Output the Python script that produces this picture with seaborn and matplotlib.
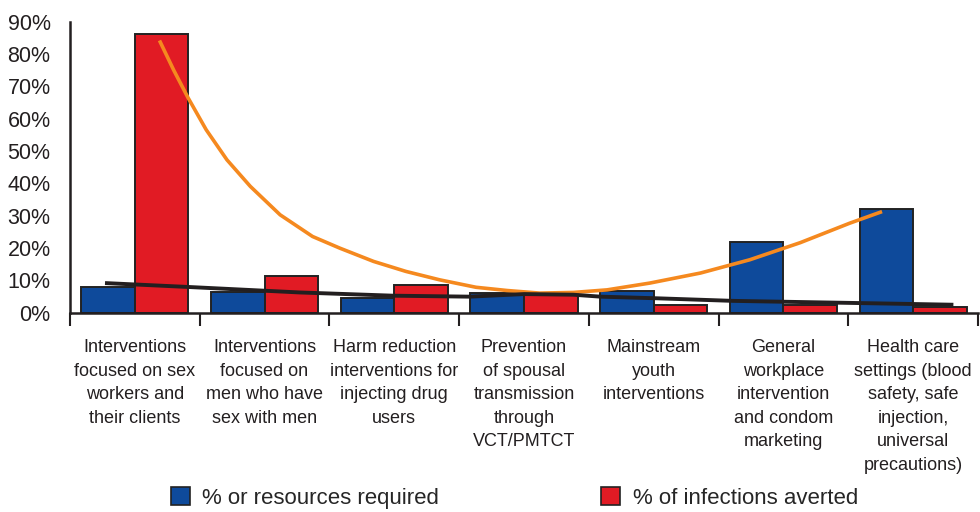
import pandas as pd
import matplotlib.pyplot as plt
import seaborn as sns
from matplotlib.patches import Patch

# Dados
categorias = [
    'Interventions\nfocused on sex\nworkers and\ntheir clients',
    'Interventions\nfocused on\nmen who have\nsex with men',
    'Harm reduction\ninterventions for\ninjecting drug\nusers',
    'Prevention\nof spousal\ntransmission\nthrough\nVCT/PMTCT',
    'Mainstream\nyouth\ninterventions',
    'General\nworkplace\nintervention\nand condom\nmarketing',
    'Health care\nsettings (blood\nsafety, safe\ninjection,\nuniversal\nprecautions)',
]
recursos = [8.0, 6.5, 4.6, 6.2, 6.6, 22.0, 32.0]
infeccoes = [86.3, 11.5, 8.7, 5.9, 2.4, 2.4, 1.7]

serie_nomes = ['% or resources required', '% of infections averted']
cores = ['#0e4a9b', '#e11b24']

# Curva laranja (tendência das infecções evitadas)
laranja_x = [0.19, 0.30, 0.41, 0.55, 0.71, 0.89, 1.12, 1.37, 1.58, 1.84, 2.09, 2.35,
             2.63, 2.87, 3.12, 3.38, 3.64, 3.97, 4.36, 4.74, 5.13, 5.51, 5.76]
laranja_y = [84.2, 75.0, 66.5, 56.6, 47.3, 39.1, 30.3, 23.6, 20.0, 15.9, 12.8, 10.2,
             7.9, 6.9, 6.1, 6.3, 7.1, 9.2, 12.3, 16.4, 21.7, 27.7, 31.3]

# Linha preta (tendência dos recursos)
preta_x = [-0.23, 0.41, 1.27, 1.99, 2.58, 3.0, 3.38, 3.59, 4.02, 4.61, 5.90, 6.31]
preta_y = [9.2, 8.0, 6.3, 5.3, 5.0, 5.8, 5.6, 5.0, 4.5, 3.7, 2.8, 2.5]

chaves = [f'c{i}' for i in range(len(categorias))]
df = pd.DataFrame({
    'cat': chaves * 2,
    'valor': recursos + infeccoes,
    'serie': [serie_nomes[0]] * len(chaves) + [serie_nomes[1]] * len(chaves),
})

sns.set_style('white')
plt.rcParams['font.family'] = ['Liberation Sans', 'DejaVu Sans']

fig = plt.figure(figsize=(9.8, 5.12), dpi=100)
ax = fig.add_axes([0.0714, 0.389, 0.9266, 0.5686])

sns.barplot(data=df, x='cat', y='valor', hue='serie', order=chaves,
            hue_order=serie_nomes, palette=cores, width=0.825, gap=0,
            edgecolor='#222222', linewidth=1.4, saturation=1,
            legend=False, ax=ax, zorder=2)

ax.plot(laranja_x, laranja_y, color='#f5891f', lw=2.6, zorder=4, solid_capstyle='butt')
ax.plot(preta_x, preta_y, color='#231f20', lw=2.8, zorder=5, solid_capstyle='butt')

ax.set_xlim(-0.5, 6.5)
ax.set_ylim(0, 90)
ax.set_yticks(range(0, 91, 10))
ax.set_yticklabels([f'{v}%' for v in range(0, 91, 10)], fontsize=15.5, color='#231f20')
ax.set_xticks(range(len(categorias)))
ax.set_xticklabels(categorias, fontsize=13, color='#231f20', linespacing=1.5)
ax.set_xticks([i - 0.5 for i in range(len(categorias) + 1)], minor=True)
ax.tick_params(axis='x', which='major', length=0, pad=19)
ax.tick_params(axis='x', which='minor', length=9, width=1.5, color='#231f20',
               direction='out', bottom=True)
ax.tick_params(axis='y', length=9, width=1.5, color='#231f20', direction='out', pad=5)
ax.set_xlabel('')
ax.set_ylabel('')

sns.despine(ax=ax)
for lado in ['left', 'bottom']:
    ax.spines[lado].set_linewidth(1.8)
    ax.spines[lado].set_color('#231f20')

handles = [Patch(facecolor=c, edgecolor='#222222', linewidth=1.2) for c in cores]
fig.legend(handles, serie_nomes, loc='center', bbox_to_anchor=(0.525, 0.027),
           ncol=2, frameon=False, columnspacing=7.3,
           handlelength=0.85, handleheight=0.85, handletextpad=0.55,
           prop={'size': 16})

plt.savefig('out.png', dpi=100)
